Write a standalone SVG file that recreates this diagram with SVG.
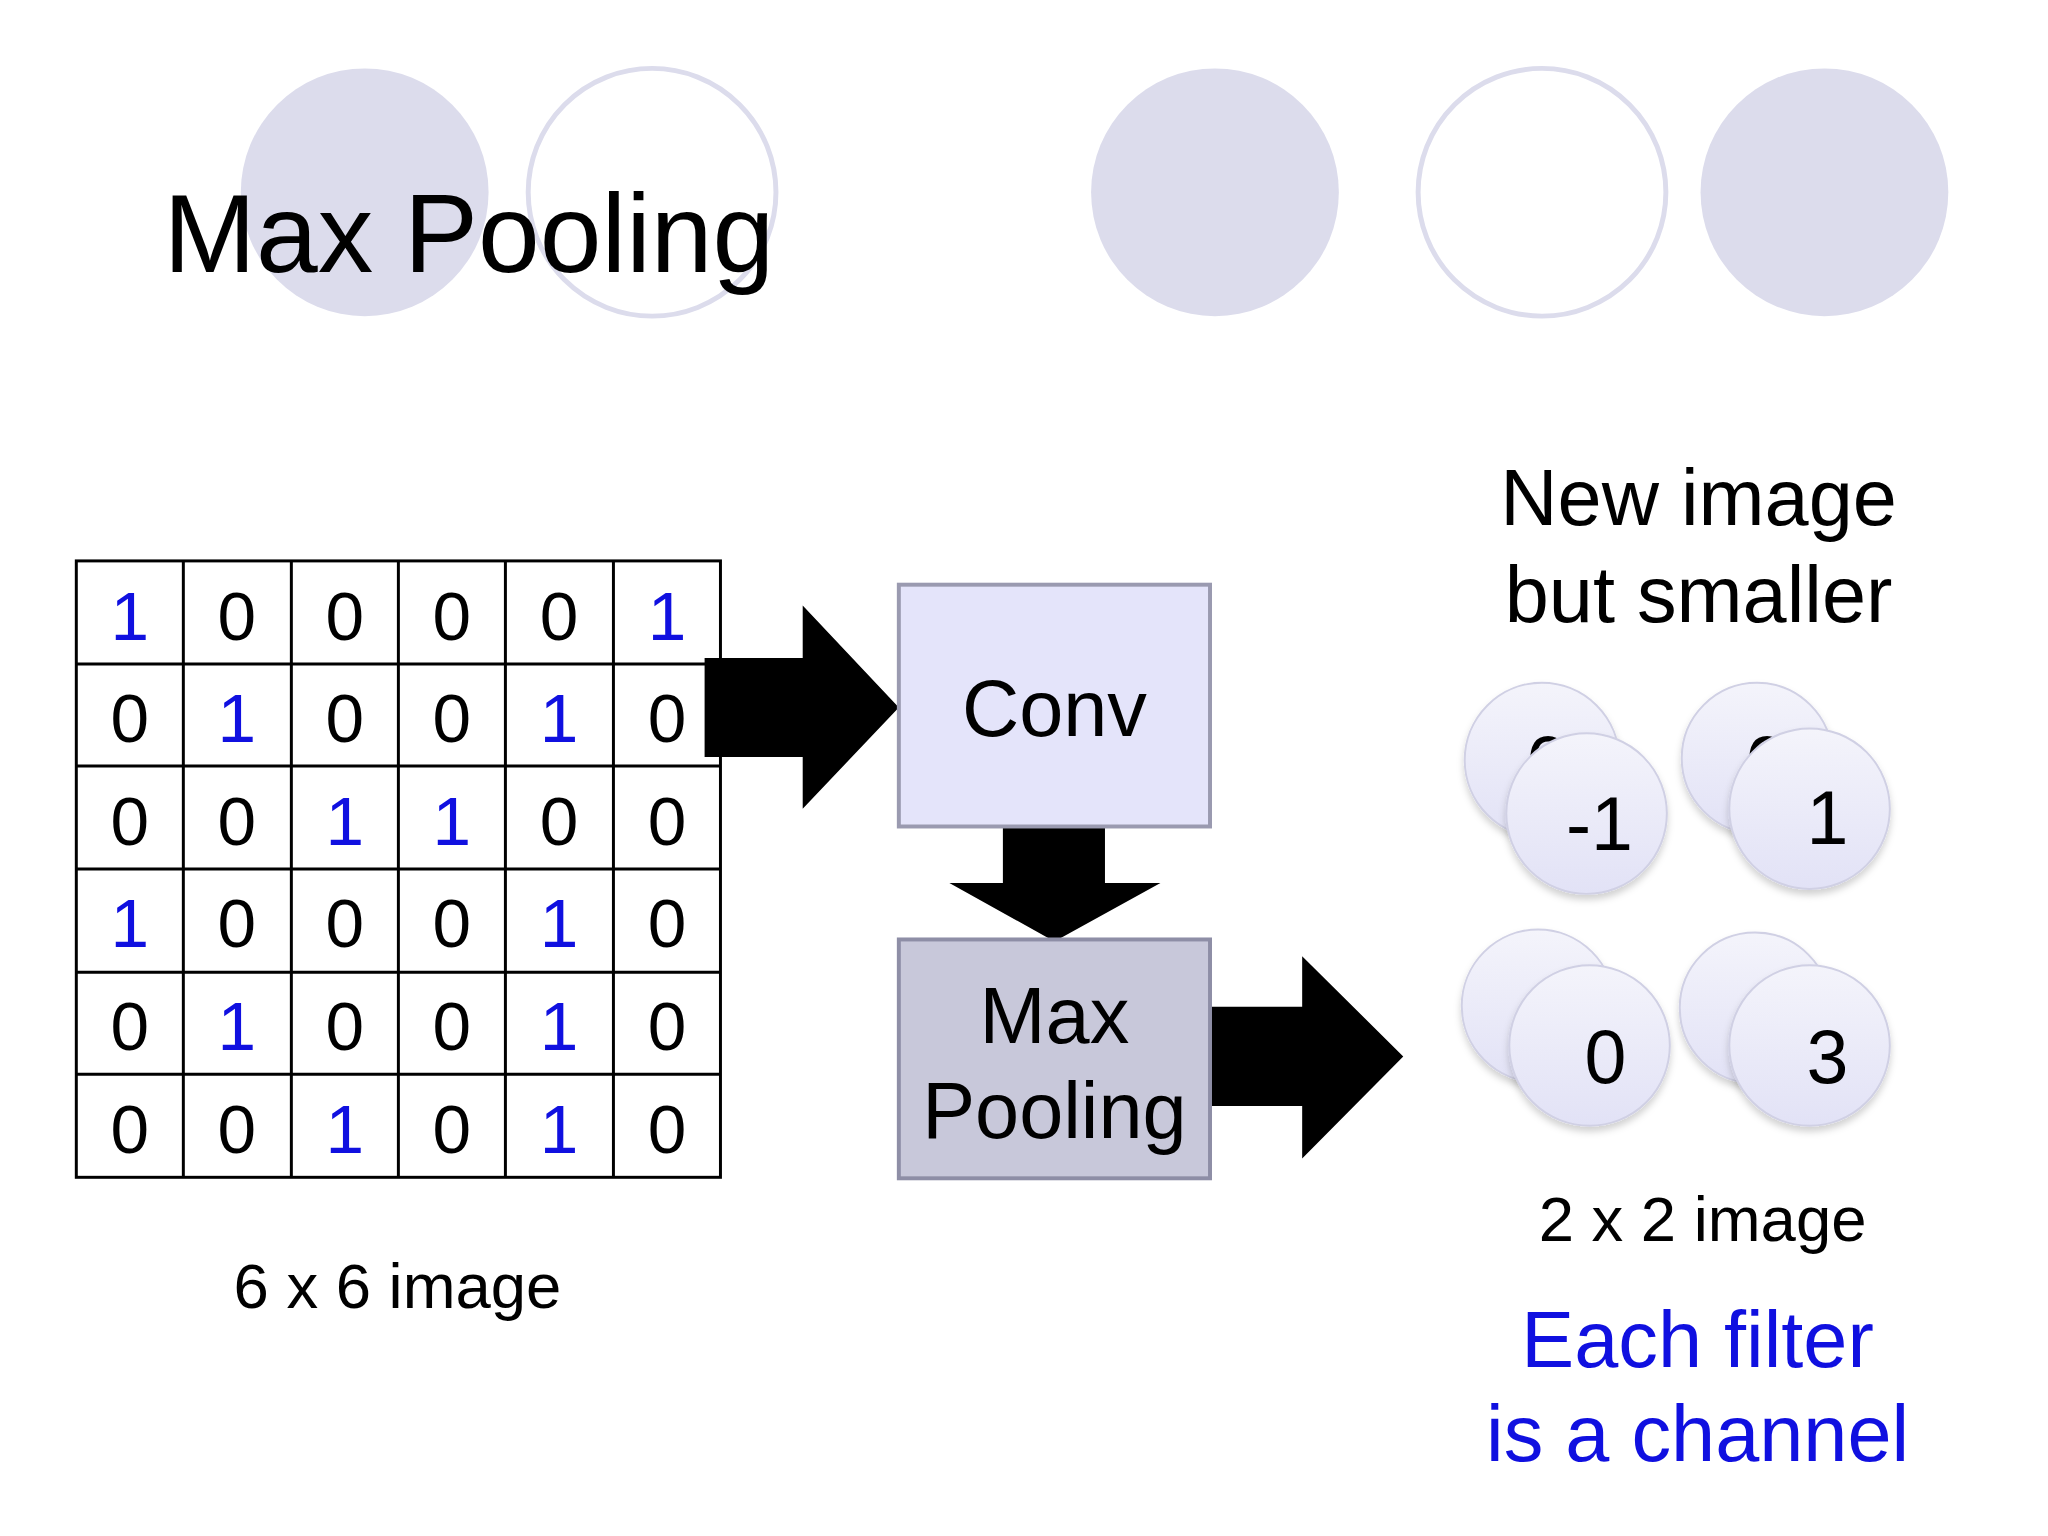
<svg xmlns="http://www.w3.org/2000/svg" width="2048" height="1536" viewBox="0 0 2048 1536">
<defs>
<linearGradient id="cg" x1="0" y1="0" x2="0" y2="1"><stop offset="0" stop-color="#f4f4fb"/><stop offset="1" stop-color="#e2e2f6"/></linearGradient>
<filter id="sh" x="-20%" y="-20%" width="140%" height="150%"><feDropShadow dx="0" dy="5" stdDeviation="4" flood-color="#000" flood-opacity="0.18"/></filter>
</defs>
<style>
text{font-family:"Liberation Sans",Arial,sans-serif;text-anchor:middle;fill:#000}
.d{font-size:70px}.b{fill:#1010e0}
.cell{fill:none;stroke:#000;stroke-width:3}
.coin{fill:url(#cg);stroke:#d0d0e4;stroke-width:2;filter:url(#sh)}
.deco{fill:#dcdcec}.deco2{fill:none;stroke:#dcdcec;stroke-width:5}
</style>
<rect width="2048" height="1536" fill="#fff"/>
<g transform="scale(0.991)">
<g id="decor">
<circle class="deco" cx="368" cy="194" r="125"/><circle class="deco2" cx="658" cy="194" r="125"/>
<circle class="deco" cx="1226" cy="194" r="125"/><circle class="deco2" cx="1556" cy="194" r="125"/>
<circle class="deco" cx="1841" cy="194" r="125"/>
</g>
<text x="165" y="274" style="font-size:112px;text-anchor:start">Max Pooling</text>
<g id="grid">
<rect class="cell" x="77" y="566" width="650" height="622"/>
<path class="cell" d="M185 566V1188M294 566V1188M402 566V1188M510 566V1188M619 566V1188M77 670H727M77 773H727M77 877H727M77 981H727M77 1084H727"/>
<g class="d">
<text x="131" y="646" class="b">1</text><text x="239" y="646">0</text><text x="348" y="646">0</text><text x="456" y="646">0</text><text x="564" y="646">0</text><text x="673" y="646" class="b">1</text>
<text x="131" y="749">0</text><text x="239" y="749" class="b">1</text><text x="348" y="749">0</text><text x="456" y="749">0</text><text x="564" y="749" class="b">1</text><text x="673" y="749">0</text>
<text x="131" y="853">0</text><text x="239" y="853">0</text><text x="348" y="853" class="b">1</text><text x="456" y="853" class="b">1</text><text x="564" y="853">0</text><text x="673" y="853">0</text>
<text x="131" y="956" class="b">1</text><text x="239" y="956">0</text><text x="348" y="956">0</text><text x="456" y="956">0</text><text x="564" y="956" class="b">1</text><text x="673" y="956">0</text>
<text x="131" y="1060">0</text><text x="239" y="1060" class="b">1</text><text x="348" y="1060">0</text><text x="456" y="1060">0</text><text x="564" y="1060" class="b">1</text><text x="673" y="1060">0</text>
<text x="131" y="1163">0</text><text x="239" y="1163">0</text><text x="348" y="1163" class="b">1</text><text x="456" y="1163">0</text><text x="564" y="1163" class="b">1</text><text x="673" y="1163">0</text>
</g>
<text x="401" y="1320" style="font-size:64px">6 x 6 image</text>
</g>
<g id="connectors" fill="#000">
<polygon points="711,664 810,664 810,611 907,714 810,816 810,764 711,764"/>
<polygon points="1012,834 1115,834 1115,891 1171,891 1064,950 958,891 1012,891"/>
<polygon points="1215,1016 1314,1016 1314,965 1416,1066 1314,1169 1314,1116 1215,1116"/>
</g>
<g id="conv">
<rect x="907" y="590" width="314" height="244" fill="#e4e4fa" stroke="#9a9ab0" stroke-width="4"/>
<text x="1064" y="743" style="font-size:80px">Conv</text>
</g>
<g id="maxpool">
<rect x="907" y="948" width="314" height="241" fill="#c8c8da" stroke="#8e8ea6" stroke-width="4"/>
<text x="1064" y="1052" style="font-size:80px">Max</text>
<text x="1064" y="1148" style="font-size:80px">Pooling</text>
</g>
<g id="output">
<text x="1714" y="530" style="font-size:80px">New image</text>
<text x="1714" y="628" style="font-size:80px">but smaller</text>
<g style="font-size:76px">
<circle class="coin" cx="1556" cy="767" r="78"/><text x="1562" y="796">0</text>
<circle class="coin" cx="1601" cy="821" r="81"/><text x="1614" y="858">-1</text>
<circle class="coin" cx="1773" cy="765" r="76"/><text x="1783" y="796">0</text>
<circle class="coin" cx="1826" cy="816" r="81"/><text x="1844" y="852">1</text>
<circle class="coin" cx="1552" cy="1015" r="77"/>
<circle class="coin" cx="1604" cy="1055" r="81"/><text x="1620" y="1093">0</text>
<circle class="coin" cx="1771" cy="1017" r="76"/>
<circle class="coin" cx="1826" cy="1055" r="81"/><text x="1844" y="1093">3</text>
</g>
<text x="1718" y="1252" style="font-size:64px">2 x 2 image</text>
<text x="1713" y="1379" class="b" style="font-size:80px">Each filter</text>
<text x="1713" y="1474" class="b" style="font-size:80px">is a channel</text>
</g>
</g>
</svg>
